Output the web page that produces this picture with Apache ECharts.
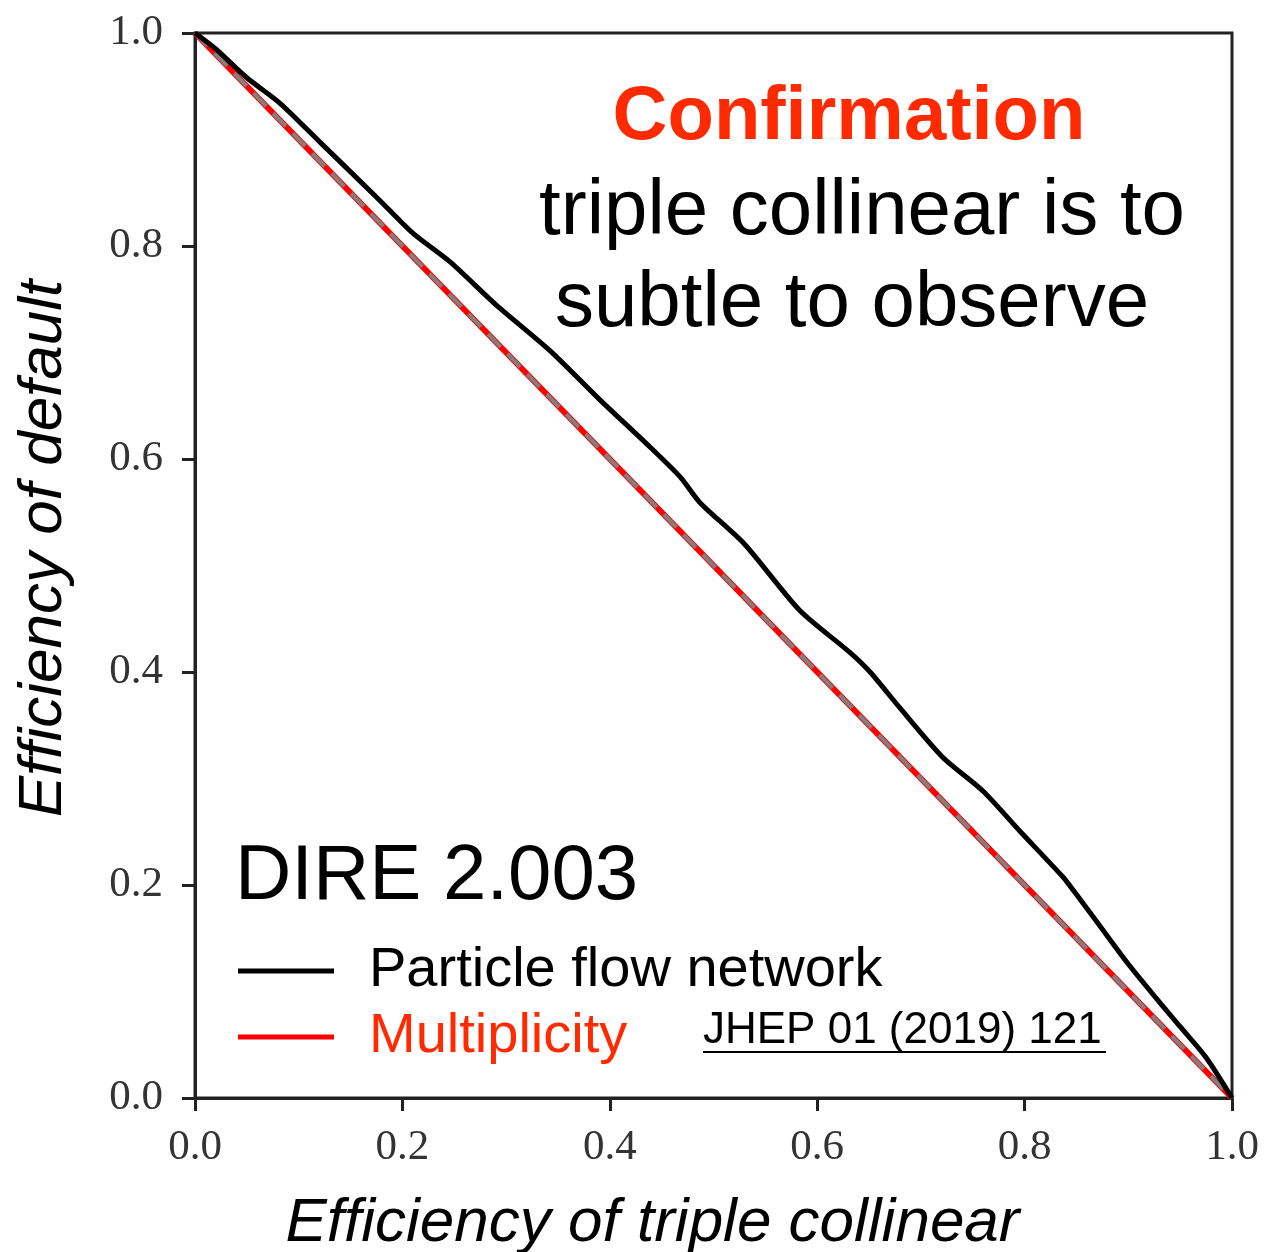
<!DOCTYPE html>
<html>
<head>
<meta charset="utf-8">
<script src="https://cdn.jsdelivr.net/npm/echarts@6/dist/echarts.min.js"></script>
<style>
html,body{margin:0;padding:0;background:#fff;}
#chart{width:1266px;height:1252px;}
</style>
</head>
<body>
<div id="chart"></div>
<script>
// Particle flow network curve (x = eff. of triple collinear, y = eff. of default)
const pfnX = [0, 0.02, 0.05, 0.082, 0.12, 0.178, 0.21, 0.246, 0.29, 0.342, 0.39, 0.439, 0.468, 0.487, 0.53, 0.583, 0.632, 0.651, 0.68, 0.721, 0.76, 0.796, 0.837, 0.847, 0.87, 0.899, 0.93, 0.95, 0.975, 1.0];
const pfnY = [1.0, 0.985, 0.958, 0.934, 0.898, 0.843, 0.812, 0.785, 0.745, 0.702, 0.656, 0.611, 0.583, 0.559, 0.52, 0.458, 0.418, 0.400, 0.366, 0.320, 0.288, 0.250, 0.2075, 0.195, 0.165, 0.127, 0.09, 0.067, 0.038, 0.0];
// Multiplicity curve
const multX = [0, 0.25, 0.5, 0.75, 1.0];
const multY = [1.0, 0.75, 0.5, 0.25, 0.0];
// Random-guess diagonal
const diagX = [0, 1];
const diagY = [1, 0];

const zip = (a, b) => a.map((v, i) => [v, b[i]]);
const chart = echarts.init(document.getElementById('chart'));
const sans = '"Liberation Sans", Arial, sans-serif';
const serif = '"Liberation Serif", "DejaVu Serif", serif';
const red = '#ff2a00';
const lineRed = '#ff0000';

chart.setOption({
  animation: false,
  backgroundColor: '#fff',
  grid: {left: 195, right: 34, top: 33, bottom: 154, outerBoundsMode: 'none', containLabel: false,
         show: true, borderColor: '#222', borderWidth: 3, backgroundColor: 'transparent'},
  xAxis: {
    type: 'value', min: 0, max: 1, interval: 0.2,
    name: 'Efficiency of triple collinear', nameLocation: 'middle', nameGap: 95,
    nameTextStyle: {fontFamily: sans, fontStyle: 'italic', fontSize: 62, color: '#000', padding: [0, 122, 0, 0]},
    axisLine: {show: true, lineStyle: {color: '#222', width: 3}},
    axisTick: {show: true, inside: false, length: 13, lineStyle: {color: '#222', width: 3}},
    splitLine: {show: false},
    axisLabel: {fontFamily: serif, fontSize: 43, color: '#333', margin: 28, formatter: v => v.toFixed(1)}
  },
  yAxis: {
    type: 'value', min: 0, max: 1, interval: 0.2,
    name: 'Efficiency of default', nameLocation: 'middle', nameGap: 120,
    nameTextStyle: {fontFamily: sans, fontStyle: 'italic', fontSize: 62, color: '#000', padding: [0, 0, 0, 34]},
    axisLine: {show: true, lineStyle: {color: '#222', width: 3}},
    axisTick: {show: true, inside: false, length: 13, lineStyle: {color: '#222', width: 3}},
    splitLine: {show: false},
    axisLabel: {fontFamily: serif, fontSize: 43, color: '#333', margin: 32, formatter: v => v.toFixed(1)}
  },
  legend: {
    orient: 'vertical', left: 233, top: 938, itemWidth: 96, itemHeight: 5, itemGap: 10,
    icon: 'rect', selectedMode: false,
    textStyle: {fontFamily: sans, fontSize: 56, padding: [0, 0, 0, 30]},
    data: [
      {name: 'Particle flow network', textStyle: {color: '#000'}},
      {name: 'Multiplicity', textStyle: {color: red}}
    ]
  },
  series: [
    {name: 'Multiplicity', type: 'line', data: zip(multX, multY), showSymbol: false, symbol: 'none',
     lineStyle: {color: lineRed, width: 6}, itemStyle: {color: lineRed}, z: 2},
    {name: 'Random', type: 'line', data: zip(diagX, diagY), showSymbol: false, symbol: 'none',
     lineStyle: {color: '#808080', width: 4, type: [18, 10]}, z: 3},
    {name: 'Particle flow network', type: 'line', data: zip(pfnX, pfnY), showSymbol: false, symbol: 'none',
     smooth: 0.25, lineStyle: {color: '#000', width: 5}, itemStyle: {color: '#000'}, z: 4}
  ],
  graphic: [
    {type: 'text', x: 849, y: 118, style: {text: 'Confirmation', fill: red, font: 'bold 76px ' + sans, textAlign: 'center', textVerticalAlign: 'middle'}, z: 10},
    {type: 'text', x: 862, y: 212, style: {text: 'triple collinear is to', fill: '#000', font: '78px ' + sans, textAlign: 'center', textVerticalAlign: 'middle'}, z: 10},
    {type: 'text', x: 852, y: 304, style: {text: 'subtle to observe', fill: '#000', font: '78px ' + sans, textAlign: 'center', textVerticalAlign: 'middle'}, z: 10},
    {type: 'text', x: 235, y: 877, style: {text: 'DIRE 2.003', fill: '#000', font: '78px ' + sans, textAlign: 'left', textVerticalAlign: 'middle'}, z: 10},
    {type: 'text', x: 703, y: 1031, style: {text: 'JHEP 01 (2019) 121', fill: '#000', font: '44px ' + sans, textAlign: 'left', textVerticalAlign: 'middle'}, z: 10},
    {type: 'line', shape: {x1: 703, y1: 1052, x2: 1106, y2: 1052}, style: {stroke: '#000', lineWidth: 2}, z: 10}
  ]
});
</script>
</body>
</html>
